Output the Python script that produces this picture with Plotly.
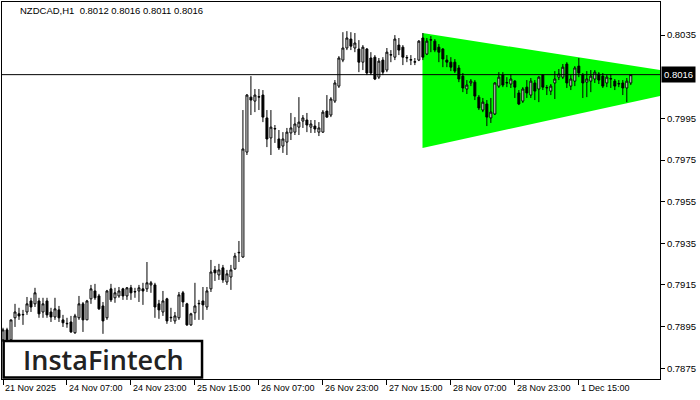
import plotly.graph_objects as go

# ---- data (NZDCAD H1) ----
opens = [0.78886,0.78934,0.78886,0.78992,0.79011,0.79006,0.7902,0.79073,0.79059,0.79073,
         0.7902,0.79073,0.7902,0.78996,0.7903,0.78982,0.78963,0.78972,0.7892,0.78992,
         0.79059,0.78982,0.79083,0.79121,0.79097,0.79049,0.78992,0.79131,0.79088,0.79097,
         0.79131,0.79097,0.79136,0.79116,0.79121,0.79131,0.79131,0.7915,0.7915,0.79059,
         0.7902,0.79083,0.78992,0.78977,0.78992,0.79112,0.79059,0.78958,0.79016,0.79059,
         0.79073,0.79044,0.79131,0.79222,0.79198,0.79232,0.79164,0.79188,0.79227,0.79304,
         0.79284,0.79788,0.80052,0.80033,0.80052,0.80062,0.79952,0.79856,0.79899,0.79851,
         0.79817,0.79836,0.7988,0.79884,0.79908,0.79937,0.79942,0.79908,0.79913,0.79884,
         0.79884,0.79985,0.79966,0.80033,0.80105,0.8023,0.80288,0.80331,0.80288,0.80283,
         0.8022,0.80283,0.8024,0.80244,0.80148,0.8023,0.80182,0.80254,0.80244,0.80302,
         0.80292,0.8024,0.8023,0.8022,0.8023,0.80336,0.80259,0.80326,0.80321,0.80292,
         0.80283,0.8023,0.8022,0.8022,0.80192,0.80153,0.80091,0.8012,0.80124,0.80052,
         0.7999,0.80019,0.79952,0.79971,0.80105,0.80158,0.8012,0.80115,0.80129,0.80072,
         0.80033,0.801,0.80062,0.8012,0.80091,0.80158,0.80096,0.80081,0.8012,0.80148,
         0.80148,0.80211,0.80105,0.80129,0.80201,0.80158,0.80124,0.80129,0.80139,0.80163,
         0.80153,0.8012,0.80139,0.80129,0.80115,0.8012,0.80096,0.8012]
highs = [0.78944,0.78944,0.78982,0.79059,0.7904,0.7903,0.79092,0.79088,0.79136,0.79088,
         0.79088,0.79088,0.7904,0.79088,0.79049,0.79006,0.78992,0.79001,0.79011,0.79097,
         0.79068,0.79078,0.7915,0.79155,0.79107,0.79068,0.79126,0.79155,0.79136,0.7914,
         0.79136,0.7914,0.7915,0.79136,0.7915,0.7916,0.7926,0.79169,0.7916,0.79078,
         0.79121,0.79088,0.7904,0.7902,0.79116,0.79121,0.79064,0.79016,0.7916,0.79078,
         0.7914,0.7914,0.7927,0.79241,0.79251,0.79246,0.79222,0.79246,0.79304,0.79361,
         0.7999,0.80067,0.80153,0.80091,0.80091,0.80086,0.7999,0.7999,0.79918,0.79894,
         0.79884,0.79904,0.79976,0.79956,0.80052,0.79966,0.79976,0.79942,0.79942,0.79932,
         0.7999,0.80062,0.80052,0.80134,0.80249,0.80364,0.80369,0.80364,0.8036,0.80326,
         0.80302,0.80288,0.80268,0.80254,0.8024,0.80244,0.80288,0.80278,0.8035,0.80336,
         0.80302,0.80254,0.80254,0.8024,0.80326,0.8036,0.80336,0.80345,0.80331,0.80307,
         0.80288,0.80254,0.80244,0.80235,0.80206,0.80168,0.80134,0.80139,0.80134,0.80062,
         0.80048,0.80038,0.80048,0.80124,0.80172,0.80172,0.80148,0.80163,0.80134,0.80086,
         0.801,0.80134,0.80144,0.80134,0.80153,0.80163,0.8011,0.80115,0.80177,0.80187,
         0.80211,0.8022,0.80158,0.80201,0.8024,0.80168,0.80177,0.80182,0.80182,0.80172,
         0.80168,0.80158,0.80163,0.80139,0.80134,0.80134,0.80144,0.8016]
lows = [0.78876,0.78876,0.78876,0.78948,0.78982,0.78958,0.79006,0.7902,0.79044,0.78992,
        0.78992,0.78992,0.78972,0.78982,0.78972,0.78948,0.78944,0.7892,0.78915,0.78982,
        0.78924,0.78982,0.79059,0.79078,0.7903,0.78915,0.78982,0.79068,0.79064,0.79088,
        0.79078,0.79078,0.79078,0.79088,0.79068,0.79054,0.79116,0.79112,0.78992,0.78987,
        0.79001,0.78963,0.78972,0.78963,0.78982,0.79044,0.78953,0.78953,0.78982,0.78982,
        0.78982,0.7903,0.79116,0.79169,0.79174,0.7916,0.7915,0.79126,0.79222,0.7926,
        0.7928,0.79774,0.79966,0.7998,0.7999,0.79932,0.79812,0.79774,0.79832,0.79798,
        0.79784,0.79774,0.79846,0.7987,0.7987,0.79904,0.79884,0.7988,0.7988,0.79865,
        0.7988,0.79952,0.79956,0.80024,0.80096,0.8022,0.80278,0.80278,0.80268,0.80172,
        0.80182,0.80158,0.80158,0.80134,0.80139,0.80158,0.80172,0.8022,0.8023,0.80254,
        0.80206,0.8022,0.80206,0.80206,0.80225,0.8023,0.80254,0.80268,0.80268,0.8022,
        0.80196,0.80196,0.80177,0.80168,0.80124,0.80076,0.80067,0.80105,0.80038,0.7999,
        0.7998,0.79913,0.79928,0.79966,0.80096,0.801,0.801,0.80096,0.80048,0.80014,
        0.80024,0.80048,0.80048,0.80038,0.80028,0.80086,0.80062,0.80062,0.80043,0.80134,
        0.80139,0.80096,0.80086,0.80105,0.80148,0.80048,0.80052,0.80076,0.8012,0.80115,
        0.80096,0.801,0.80096,0.80086,0.801,0.80062,0.80028,0.8011]
closes = [0.78934,0.78886,0.78982,0.7902,0.79001,0.79008,0.79059,0.79044,0.79112,0.79011,
          0.79059,0.79006,0.78996,0.79035,0.78992,0.78968,0.78965,0.78924,0.79001,0.79059,
          0.78982,0.79073,0.79131,0.79088,0.79035,0.78977,0.79121,0.79078,0.79112,0.79121,
          0.79097,0.79136,0.79112,0.79118,0.79136,0.79121,0.7916,0.7916,0.79044,0.7903,
          0.79073,0.78977,0.78994,0.79001,0.79102,0.79068,0.78958,0.79011,0.79049,0.79061,
          0.79054,0.79121,0.79212,0.79208,0.79222,0.79174,0.79203,0.79222,0.79289,0.79306,
          0.79803,0.80062,0.80038,0.80062,0.80054,0.79956,0.79851,0.79908,0.79901,0.79808,
          0.79851,0.79884,0.79904,0.79923,0.79932,0.79952,0.79918,0.79923,0.79899,0.79904,
          0.7998,0.79956,0.80043,0.8012,0.8024,0.80288,0.80336,0.80297,0.80312,0.8022,
          0.80292,0.80168,0.80168,0.80139,0.80225,0.80172,0.80268,0.80256,0.80331,0.80278,
          0.80244,0.80242,0.80232,0.80222,0.80321,0.80244,0.80321,0.80328,0.80278,0.80268,
          0.80235,0.8022,0.80196,0.80177,0.80139,0.80096,0.8011,0.80129,0.80057,0.8,
          0.80028,0.79956,0.7998,0.8012,0.80148,0.8011,0.80122,0.80139,0.801,0.80019,
          0.80091,0.80072,0.80129,0.80081,0.80148,0.801,0.80098,0.80105,0.80139,0.80163,
          0.80196,0.8012,0.80139,0.80192,0.80168,0.8012,0.80139,0.80153,0.80172,0.80134,
          0.80105,0.80148,0.80141,0.80105,0.80117,0.80096,0.80129,0.8016]
bars = list(range(len(closes)))

tick_bars = [0, 16, 32, 48, 64, 80, 96, 112, 128, 144]
tick_labels = ["21 Nov 2025", "24 Nov 07:00", "24 Nov 23:00", "25 Nov 15:00", "26 Nov 07:00",
               "26 Nov 23:00", "27 Nov 15:00", "28 Nov 07:00", "28 Nov 23:00", "1 Dec 15:00"]
price_ticks = [0.7875, 0.7895, 0.7915, 0.7935, 0.7955, 0.7975, 0.7995, 0.8035]
price_tick_labels = ["0.7875", "0.7895", "0.7915", "0.7935", "0.7955", "0.7975", "0.7995",
                     "0.8035"]

triangle_x = [104.9, 164.3, 164.3, 104.9]
triangle_y = [0.80360, 0.80182, 0.80057, 0.79808]

last_price = 0.8016
title_text = "NZDCAD,H1\u00a0\u00a00.8012 0.8016 0.8011 0.8016"

FONT = "Liberation Sans"

fig = go.Figure()
fig.add_trace(go.Candlestick(
    x=bars, open=opens, high=highs, low=lows, close=closes,
    increasing=dict(line=dict(color="black", width=1), fillcolor="white"),
    decreasing=dict(line=dict(color="black", width=1), fillcolor="black"),
    whiskerwidth=0, showlegend=False))

# triangle pattern drawn beneath candles
tri_path = "M " + " L ".join(f"{x},{y}" for x, y in zip(triangle_x, triangle_y)) + " Z"
fig.add_shape(type="path", path=tri_path, xref="x", yref="y", fillcolor="#00FF00",
              line=dict(width=0), layer="below")

fig.add_shape(type="line", xref="paper", x0=0, x1=1, yref="y", y0=last_price, y1=last_price,
              line=dict(color="black", width=1))

# tick labels on x axis (left-aligned after tick, MT4 style)
for b, t in zip(tick_bars, tick_labels):
    fig.add_annotation(x=b, xref="x", y=0, yref="paper", text=t, showarrow=False,
                       xanchor="left", yanchor="top", xshift=0, yshift=-2,
                       font=dict(family=FONT, size=9, color="black"))

fig.add_annotation(x=0.024, xref="paper", y=0.977, yref="paper", text=title_text,
                   showarrow=False, xanchor="left", yanchor="middle",
                   font=dict(family=FONT, size=9.5, color="black"))

fig.add_annotation(x=1, xref="paper", y=last_price, yref="y", text="0.8016",
                   showarrow=False, xanchor="left", yanchor="middle", xshift=1,
                   bgcolor="black", borderpad=2,
                   font=dict(family=FONT, size=9.5, color="white"))

# logo box
fig.add_shape(type="rect", xref="paper", yref="paper", x0=0.0025, x1=0.304, y0=0.004, y1=0.101,
              line=dict(color="black", width=2.5), fillcolor="white", layer="above")
fig.add_annotation(x=0.155, xref="paper", y=0.053, yref="paper", text="InstaFintech",
                   showarrow=False, xanchor="center", yanchor="middle",
                   font=dict(family="Open Sans", size=27, color="#222222", weight=600))

fig.update_layout(
    width=700, height=400,
    margin=dict(l=2, r=40, t=2, b=21),
    paper_bgcolor="white", plot_bgcolor="white",
    showlegend=False,
    xaxis=dict(range=[-0.25, 164.3], tickvals=tick_bars, showticklabels=False,
               ticks="outside", ticklen=5, tickcolor="black", showgrid=False,
               zeroline=False, showline=True, linecolor="black", linewidth=1, mirror=True,
               rangeslider=dict(visible=False), fixedrange=True),
    yaxis=dict(range=[0.78698, 0.80509], side="right", tickvals=price_ticks,
               ticktext=price_tick_labels, ticks="outside", ticklen=4, tickcolor="black",
               showgrid=False, zeroline=False, showline=True, linecolor="black",
               linewidth=1, mirror=True, tickfont=dict(family=FONT, size=9.5, color="black")),
)

fig.write_html("out.html", config={"displayModeBar": False},
               post_script="document.body.style.margin='0';")
